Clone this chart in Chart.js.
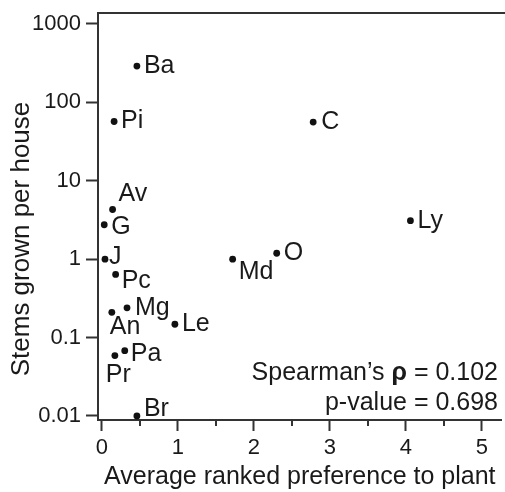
<!DOCTYPE html>
<html>
<head>
<meta charset="utf-8">
<script src="https://cdn.jsdelivr.net/npm/chart.js@4.4.1/dist/chart.umd.min.js"></script>
<style>
  html, body { margin: 0; padding: 0; background: #fff; }
  canvas { display: block; }
</style>
</head>
<body>
<canvas id="plantChart" width="505" height="492"></canvas>
<script>
const plants = ["Ba", "Pi", "C", "Av", "G", "J", "Pc", "Mg", "An", "Le", "Pa", "Pr", "Br", "Md", "O", "Ly"];
const preference = [0.46, 0.16, 2.78, 0.14, 0.03, 0.04, 0.18, 0.33, 0.13, 0.96, 0.30, 0.17, 0.46, 1.72, 2.30, 4.06];
const stems = [290, 57, 56, 4.3, 2.75, 1.0, 0.64, 0.24, 0.21, 0.148, 0.068, 0.059, 0.01, 1.0, 1.19, 3.1];
const xTicks = [0, 1, 2, 3, 4, 5];
const yTicks = [0.01, 0.1, 1, 10, 100, 1000];
const spearmanRho = 0.102;
const pValue = 0.698;

const axisColor = "#333";
const textColor = "#1a1a1a";
const fontFamily = "'Liberation Sans', Arial, sans-serif";

// where each name sits relative to its dot
const labelOffsets = {
  Ba: [7, 0], Pi: [7, 0], C: [8, 0], Av: [6, -15], G: [7, 2], J: [4, -2],
  Pc: [6, 7], Mg: [8, 0], An: [-2, 15], Le: [7, 0], Pa: [6, 3], Pr: [-9, 20],
  Br: [7, -7], Md: [6, 13], O: [7, 0], Ly: [7, 0]
};

const decorations = {
  id: "decorations",
  afterDraw(chart) {
    const ctx = chart.ctx;
    const area = chart.chartArea;
    const xs = chart.scales.x;
    ctx.save();

    // top frame line
    ctx.strokeStyle = axisColor;
    ctx.lineWidth = 2;
    ctx.beginPath();
    ctx.moveTo(area.left - 1, area.top);
    ctx.lineTo(chart.width, area.top);
    ctx.stroke();

    // minor ticks halfway between the x ticks
    ctx.beginPath();
    xs.ticks.forEach(t => {
      const v = t.value + 0.5;
      if (v < xs.max) {
        const px = Math.round(xs.getPixelForValue(v));
        ctx.moveTo(px, area.bottom);
        ctx.lineTo(px, area.bottom + 6);
      }
    });
    ctx.stroke();

    // point names
    ctx.fillStyle = textColor;
    ctx.font = "25px " + fontFamily;
    ctx.textBaseline = "middle";
    ctx.textAlign = "left";
    chart.getDatasetMeta(0).data.forEach((pt, i) => {
      const off = labelOffsets[plants[i]] || [6, 0];
      ctx.fillText(plants[i], pt.x + off[0], pt.y + off[1]);
    });

    // statistics
    const rightX = 498;
    const normal = "25px " + fontFamily;
    const bold = "bold 25px " + fontFamily;
    const part1 = "Spearman\u2019s ";
    const part2 = "\u03C1";
    const part3 = " = " + spearmanRho.toFixed(3);
    ctx.font = normal;
    const w1 = ctx.measureText(part1).width;
    const w3 = ctx.measureText(part3).width;
    ctx.font = bold;
    const w2 = ctx.measureText(part2).width;
    let sx = rightX - (w1 + w2 + w3);
    ctx.font = normal;
    ctx.fillText(part1, sx, 373);
    ctx.font = bold;
    ctx.fillText(part2, sx + w1, 373);
    ctx.font = normal;
    ctx.fillText(part3, sx + w1 + w2, 373);
    ctx.textAlign = "right";
    ctx.fillText("p-value = " + pValue.toFixed(3), rightX, 403);

    // y axis title
    ctx.font = "26px " + fontFamily;
    ctx.translate(22, 239);
    ctx.rotate(-Math.PI / 2);
    ctx.textAlign = "center";
    ctx.fillText("Stems grown per house", 0, 0);
    ctx.restore();
  }
};

Chart.defaults.font.family = fontFamily;
Chart.defaults.color = textColor;

new Chart(document.getElementById("plantChart"), {
  type: "scatter",
  data: {
    datasets: [{
      data: plants.map((p, i) => ({ x: preference[i], y: stems[i] })),
      pointRadius: 3.4,
      pointHoverRadius: 3.4,
      backgroundColor: "#111",
      borderWidth: 0,
      clip: false
    }]
  },
  options: {
    responsive: false,
    animation: false,
    layout: { padding: { top: 13, right: 0, bottom: 0, left: 0 } },
    plugins: { legend: { display: false }, tooltip: { enabled: false } },
    scales: {
      x: {
        type: "linear",
        min: -0.052,
        max: 5.26,
        afterBuildTicks: s => { s.ticks = xTicks.map(v => ({ value: v })); },
        afterFit: s => { s.height = 72; s.paddingLeft = 0; s.paddingRight = 0; },
        grid: { drawOnChartArea: false, drawTicks: true, tickLength: 11, tickWidth: 2, tickColor: axisColor },
        border: { display: true, color: axisColor, width: 2 },
        ticks: { font: { size: 22 }, color: textColor, padding: 4, maxRotation: 0, autoSkip: false },
        title: {
          display: true,
          text: "Average ranked preference to plant",
          font: { size: 25 },
          color: textColor,
          padding: { top: 0, bottom: 0 }
        }
      },
      y: {
        type: "logarithmic",
        min: 0.00889,
        max: 1380,
        afterBuildTicks: s => { s.ticks = yTicks.map(v => ({ value: v })); },
        afterFit: s => { s.width = 98; s.paddingTop = 0; s.paddingBottom = 0; },
        grid: { drawOnChartArea: false, drawTicks: true, tickLength: 12, tickWidth: 2, tickColor: axisColor },
        border: { display: true, color: axisColor, width: 2 },
        ticks: { font: { size: 22 }, color: textColor, padding: 5, autoSkip: false, callback: v => String(v) }
      }
    }
  },
  plugins: [decorations]
});
</script>
</body>
</html>
